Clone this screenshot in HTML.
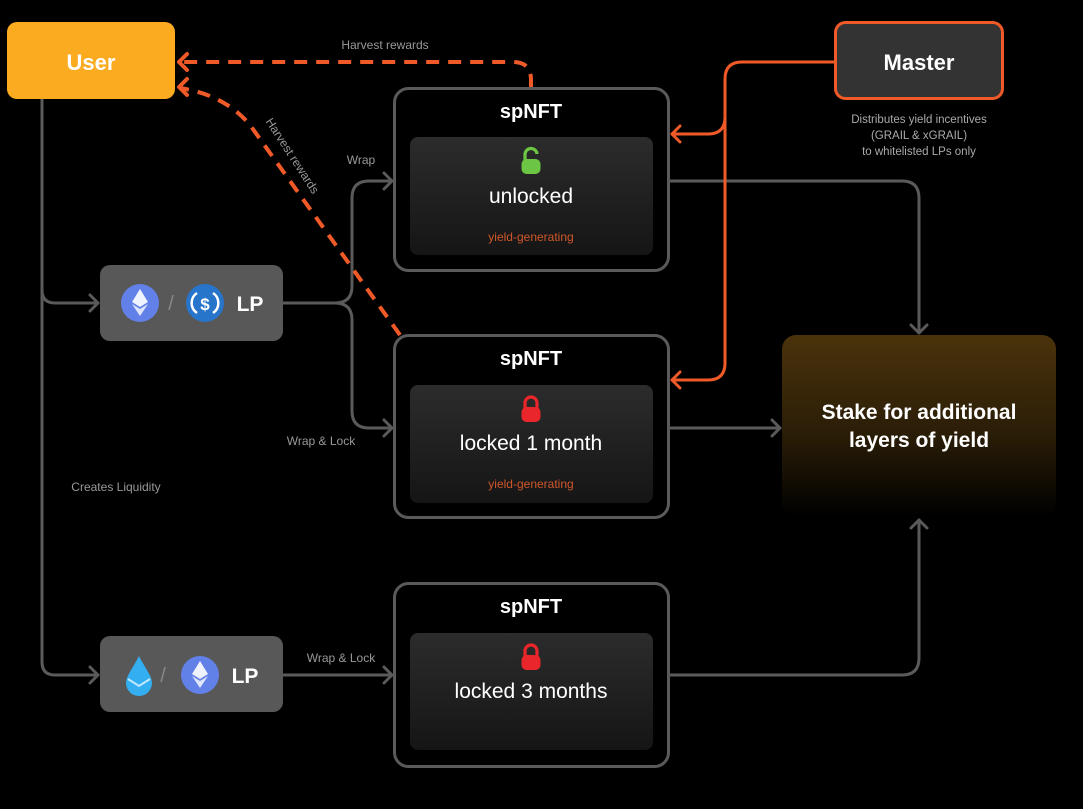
<!DOCTYPE html>
<html><head><meta charset="utf-8"><style>
html,body{margin:0;padding:0;background:#000;}
svg{display:block;font-family:"Liberation Sans",sans-serif;}
</style></head><body>
<svg width="1083" height="809" viewBox="0 0 1083 809" xmlns="http://www.w3.org/2000/svg">
<defs>
<linearGradient id="inner" x1="0" y1="0" x2="0" y2="1"><stop offset="0" stop-color="#2c2c2c"/><stop offset="1" stop-color="#151515"/></linearGradient>
<linearGradient id="stake" x1="0" y1="0" x2="0" y2="1"><stop offset="0" stop-color="#4a330b"/><stop offset="0.55" stop-color="#2a1d07"/><stop offset="1" stop-color="#000"/></linearGradient>
<g id="lockR"><path d="M-6,-2 v-5 a6,6 0 0 1 12,0 v5" fill="none" stroke="#e8262b" stroke-width="3.2"/><rect x="-9.5" y="-3" width="19" height="15" rx="5" fill="#e8262b"/></g>
<g id="eth"><polygon points="0,-13 8,0 0,5 -8,0" fill="#fff" opacity="0.9"/><polygon points="0,7 8,2 0,14 -8,2" fill="#fff" opacity="0.8"/></g>
</defs>
<rect width="1083" height="809" fill="#000"/>

<g fill="none" stroke="#5a5a5a" stroke-width="3" stroke-linecap="round" stroke-linejoin="round">
<path d="M42,99 V290 Q42,303 55,303 H98"/>
<path d="M42,290 V662 Q42,675 55,675 H98"/>
<path d="M90,295 L98,303 L90,311"/>
<path d="M90,667 L98,675 L90,683"/>
<path d="M283,303 H335 Q352,303 352,286 V198 Q352,181 369,181 H392"/>
<path d="M335,303 Q352,303 352,320 V411 Q352,428 369,428 H392"/>
<path d="M384,173 L392,181 L384,189"/>
<path d="M384,420 L392,428 L384,436"/>
<path d="M669,181 H902 Q919,181 919,198 V333"/>
<path d="M911,325 L919,333 L927,325"/>
<path d="M669,428 H780"/>
<path d="M772,420 L780,428 L772,436"/>
<path d="M283,675 H392"/>
<path d="M384,667 L392,675 L384,683"/>
<path d="M669,675 H902 Q919,675 919,658 V520"/>
<path d="M911,528 L919,520 L927,528"/>
</g>

<g fill="none" stroke="#f05a28" stroke-width="3" stroke-linecap="round" stroke-linejoin="round">
<path d="M834,62 H742 Q725,62 725,79 V363 Q725,380 708,380 H672"/>
<path d="M725,117 Q725,134 708,134 H672"/>
<path d="M680,126 L672,134 L680,142"/>
<path d="M680,372 L672,380 L680,388"/>
</g>
<g fill="none" stroke="#f05a28" stroke-width="4" stroke-linejoin="round">
<path d="M531,87 V80 Q531,62 513,62 H180" stroke-dasharray="13,9"/>
<path d="M400,335 L250,125 Q225,95 180,88" stroke-dasharray="13,9"/>
<path d="M187,54 L179,62 L187,70" stroke-linecap="round"/>
<path d="M187,79 L179,87 L187,95" stroke-linecap="round"/>
</g>

<rect x="7" y="22" width="168" height="77" rx="10" fill="#fbab1f"/>
<text x="91" y="70" text-anchor="middle" font-size="22" font-weight="bold" fill="#fff">User</text>

<rect x="835.5" y="22.5" width="167" height="76" rx="10" fill="#333" stroke="#f05a28" stroke-width="3"/>
<text x="919" y="70" text-anchor="middle" font-size="22" font-weight="bold" fill="#fff">Master</text>
<g font-size="11.5" fill="#aaa" text-anchor="middle">
<text x="919" y="123">Distributes yield incentives</text>
<text x="919" y="139">(GRAIL &amp; xGRAIL)</text>
<text x="919" y="155">to whitelisted LPs only</text>
</g>

<g font-size="12" fill="#999">
<text x="385" y="49" text-anchor="middle">Harvest rewards</text>
<text x="361" y="164" text-anchor="middle">Wrap</text>
<text x="321" y="445" text-anchor="middle">Wrap &amp; Lock</text>
<text x="116" y="491" text-anchor="middle">Creates Liquidity</text>
<text x="341" y="662" text-anchor="middle">Wrap &amp; Lock</text>
<text x="0" y="0" text-anchor="middle" transform="translate(289,158) rotate(57)">Harvest rewards</text>
</g>

<rect x="394.5" y="88.5" width="274" height="182" rx="14" fill="#000" stroke="#5a5a5a" stroke-width="3"/>
<text x="531" y="118" text-anchor="middle" font-size="20" font-weight="bold" fill="#fff">spNFT</text>
<rect x="410" y="137" width="243" height="118" rx="8" fill="url(#inner)"/>
<path d="M525,161 v-6 a6,6 0 0 1 12,-1" fill="none" stroke="#6cc644" stroke-width="3.2"/>
<rect x="521.5" y="159" width="19" height="15" rx="5" fill="#6cc644"/>
<text x="531" y="203" text-anchor="middle" font-size="21" fill="#fff">unlocked</text>
<text x="531" y="241" text-anchor="middle" font-size="12" fill="#d0572a">yield-generating</text>

<rect x="394.5" y="335.5" width="274" height="182" rx="14" fill="#000" stroke="#5a5a5a" stroke-width="3"/>
<text x="531" y="365" text-anchor="middle" font-size="20" font-weight="bold" fill="#fff">spNFT</text>
<rect x="410" y="385" width="243" height="118" rx="8" fill="url(#inner)"/>
<use href="#lockR" x="531" y="410"/>
<text x="531" y="450" text-anchor="middle" font-size="21" fill="#fff">locked 1 month</text>
<text x="531" y="488" text-anchor="middle" font-size="12" fill="#d0572a">yield-generating</text>

<rect x="394.5" y="583.5" width="274" height="183" rx="14" fill="#000" stroke="#5a5a5a" stroke-width="3"/>
<text x="531" y="613" text-anchor="middle" font-size="20" font-weight="bold" fill="#fff">spNFT</text>
<rect x="410" y="633" width="243" height="117" rx="8" fill="url(#inner)"/>
<use href="#lockR" x="531" y="658"/>
<text x="531" y="698" text-anchor="middle" font-size="21" fill="#fff">locked 3 months</text>

<rect x="782" y="335" width="274" height="182" rx="14" fill="url(#stake)"/>
<text x="919" y="419" text-anchor="middle" font-size="21" font-weight="bold" fill="#fff">Stake for additional</text>
<text x="919" y="447" text-anchor="middle" font-size="21" font-weight="bold" fill="#fff">layers of yield</text>

<rect x="100" y="265" width="183" height="76" rx="10" fill="#585858"/>
<circle cx="140" cy="303" r="19" fill="#6281e8"/>
<use href="#eth" x="140" y="302"/>
<text x="171" y="310" text-anchor="middle" font-size="20" fill="#888">/</text>
<circle cx="205" cy="303" r="19" fill="#2775ca"/>
<path d="M197,293 a12,12 0 0 0 0,20 M213,293 a12,12 0 0 1 0,20" fill="none" stroke="#fff" stroke-width="2.5"/>
<text x="205" y="310" text-anchor="middle" font-size="17" font-weight="bold" fill="#fff">$</text>
<text x="250" y="311" text-anchor="middle" font-size="21" font-weight="bold" fill="#fff">LP</text>

<rect x="100" y="636" width="183" height="76" rx="10" fill="#585858"/>
<path d="M139,656 C133,668 126,676 126,683 a13,13 0 0 0 26,0 C152,676 145,668 139,656 Z" fill="#33aef0"/>
<path d="M128,679 L139,686 L150,679" fill="none" stroke="#bfe9ff" stroke-width="2"/>
<text x="163" y="682" text-anchor="middle" font-size="20" fill="#888">/</text>
<circle cx="200" cy="675" r="19" fill="#6281e8"/>
<use href="#eth" x="200" y="674"/>
<text x="245" y="683" text-anchor="middle" font-size="21" font-weight="bold" fill="#fff">LP</text>
</svg>
</body></html>
